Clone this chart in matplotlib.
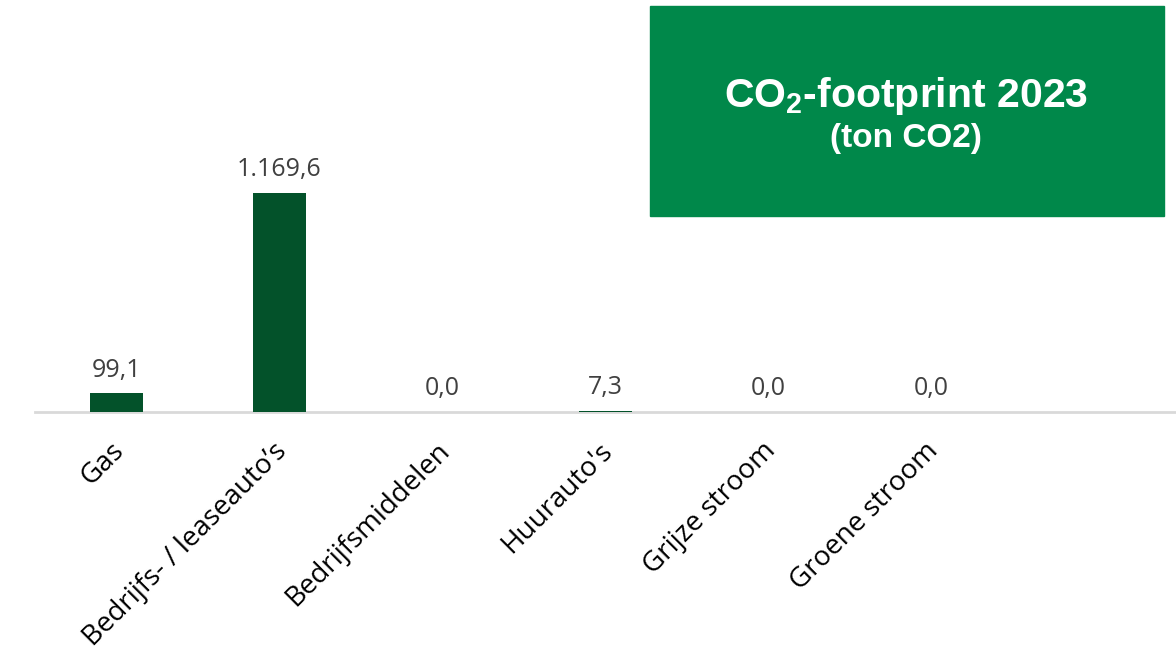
import matplotlib
matplotlib.use("Agg")
import matplotlib.pyplot as plt
from matplotlib.patches import Rectangle
from matplotlib.transforms import ScaledTranslation

plt.rcParams["mathtext.fontset"] = "custom"
plt.rcParams["mathtext.rm"] = "Liberation Sans"
plt.rcParams["mathtext.bf"] = "Liberation Sans:bold"

categories = ["Gas", "Bedrijfs- / leaseauto’s", "Bedrijfsmiddelen", "Huurauto's",
              "Grijze stroom", "Groene stroom", ""]
values = [99.1, 1169.6, 0.0, 7.3, 0.0, 0.0, None]
value_labels = ["99,1", "1.169,6", "0,0", "7,3", "0,0", "0,0", ""]

W, H = 1176, 657
fig = plt.figure(figsize=(W / 100, H / 100), dpi=100)
ax_h = 300
ax = fig.add_axes([35 / W, 1 - 412 / H, 1 - 35 / W, ax_h / H])

xs = list(range(len(categories)))
bar_x = [x for x, v in zip(xs, values) if v is not None]
bar_v = [v for v in values if v is not None]
ax.bar(bar_x, bar_v, width=0.33, color="#03522A", zorder=3)
ax.set_xlim(-0.5, len(categories) - 0.5)
ax.set_ylim(0, ax_h / 0.1875)

for x, v, lab in zip(xs, values, value_labels):
    if v is None:
        continue
    ax.annotate(lab, (x, v), xytext=(0, 12), textcoords="offset points",
                ha="center", va="baseline", fontsize=18, color="#404040",
                family="Open Sans")

for s in ["top", "right", "left"]:
    ax.spines[s].set_visible(False)
ax.spines["bottom"].set_color("#D9D9D9")
ax.spines["bottom"].set_linewidth(2)
ax.set_yticks([])
ax.set_xticks(xs)
ax.set_xticklabels(categories, rotation=45, ha="right", rotation_mode="anchor",
                   fontsize=20, family="Open Sans", color="black")
ax.tick_params(axis="x", length=0, pad=18)
off = ScaledTranslation(-7 / 100, 0, fig.dpi_scale_trans)
for lab in ax.get_xticklabels():
    lab.set_transform(lab.get_transform() + off)

# Title box
fig.patches.append(Rectangle((650 / W, 1 - 216 / H), 514 / W, 210 / H,
                             transform=fig.transFigure, color="#00884A", zorder=0))
fig.text(906 / W, 1 - 107 / H, r"CO$_\mathbf{2}$-footprint 2023", ha="center", va="baseline",
         color="white", fontsize=29.5, fontweight="bold", family="Liberation Sans")
fig.text(906 / W, 1 - 147 / H, "(ton CO2)", ha="center", va="baseline",
         color="white", fontsize=24, fontweight="bold", family="Liberation Sans")

fig.savefig("out.png", dpi=100)
